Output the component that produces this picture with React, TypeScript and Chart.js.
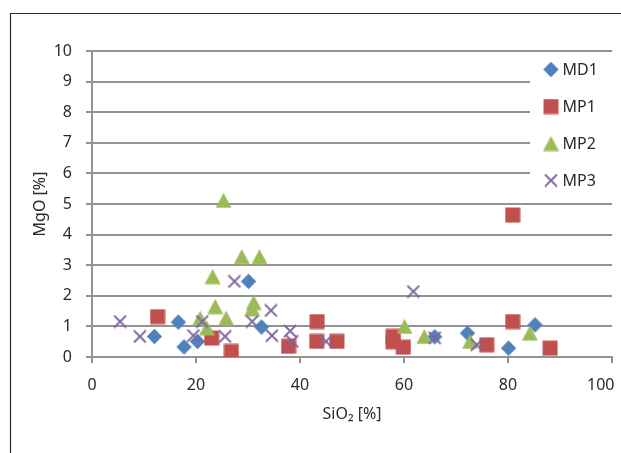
import React, { useEffect, useRef } from 'react';
import { Chart, registerables } from 'chart.js';

Chart.register(...registerables);

// ---- data ----
const seriesNames = ['MD1', 'MP1', 'MP2', 'MP3'];

const md1X = [12.0, 16.6, 17.7, 20.3, 30.1, 32.6, 65.9, 72.2, 80.1, 85.2];
const md1Y = [0.67, 1.14, 0.33, 0.51, 2.47, 0.98, 0.66, 0.78, 0.29, 1.05];

const mp1X = [12.6, 23.0, 26.8, 37.8, 43.3, 43.2, 47.1, 57.9, 57.9, 59.9, 75.9, 80.9, 80.9, 88.1];
const mp1Y = [1.32, 0.62, 0.18, 0.35, 1.16, 0.51, 0.51, 0.67, 0.5, 0.32, 0.4, 4.64, 1.16, 0.29];

const mp2X = [20.8, 22.1, 23.2, 23.7, 25.3, 25.8, 28.8, 31.1, 30.8, 32.2, 60.1, 63.9, 72.7, 84.2];
const mp2Y = [1.27, 0.95, 2.63, 1.65, 5.12, 1.27, 3.28, 1.78, 1.58, 3.28, 1.0, 0.67, 0.51, 0.78];

const mp3X = [5.4, 9.2, 19.5, 21.2, 25.6, 27.4, 30.8, 34.4, 34.6, 38.1, 38.5, 45.0, 61.8, 65.9, 74.0];
const mp3Y = [1.16, 0.67, 0.7, 1.16, 0.67, 2.47, 1.16, 1.52, 0.7, 0.85, 0.51, 0.51, 2.14, 0.63, 0.4];

const xTickValues = [0, 20, 40, 60, 80, 100];
const xTickLabels = ['0', '20', '40', '60', '80', '100\u2007\u2007\u00a0'];
const yTickValues = [0, 1, 2, 3, 4, 5, 6, 7, 8, 9, 10];

const xTitle = 'SiO\u2082 [%]';
const yTitle = 'MgO [%]';

const seriesColors = ['#4F81BD', '#C0504D', '#9BBB59', '#8064A2'];

const FONT = '"Noto Sans", "Open Sans", sans-serif';
const TEXT = '#2a2a2a';
const GRID = '#939393';

function makeMarker(kind: string, color: string): HTMLCanvasElement {
  const c = document.createElement('canvas');
  const ctx = c.getContext('2d') as CanvasRenderingContext2D;
  if (kind === 'diamond') {
    c.width = 17; c.height = 17;
    ctx.fillStyle = color;
    ctx.beginPath();
    ctx.moveTo(8.5, 0.8); ctx.lineTo(16.2, 8.5); ctx.lineTo(8.5, 16.2); ctx.lineTo(0.8, 8.5);
    ctx.closePath(); ctx.fill();
  } else if (kind === 'square') {
    c.width = 16; c.height = 16;
    ctx.fillStyle = color;
    ctx.fillRect(0.5, 0.5, 15, 15);
  } else if (kind === 'triangle') {
    c.width = 17; c.height = 16;
    ctx.fillStyle = color;
    ctx.beginPath();
    ctx.moveTo(8.5, 0.5); ctx.lineTo(16.5, 15.5); ctx.lineTo(0.5, 15.5);
    ctx.closePath(); ctx.fill();
  } else {
    c.width = 14; c.height = 14;
    ctx.strokeStyle = color;
    ctx.lineWidth = 1.8;
    ctx.beginPath();
    ctx.moveTo(1, 1); ctx.lineTo(13, 13);
    ctx.moveTo(13, 1); ctx.lineTo(1, 13);
    ctx.stroke();
  }
  return c;
}

export default function App() {
  const ref = useRef<HTMLCanvasElement | null>(null);

  useEffect(() => {
    if (!ref.current) return;
    const kinds = ['diamond', 'square', 'triangle', 'cross'];
    const markers = kinds.map((k, i) => makeMarker(k, seriesColors[i]));
    const xs = [md1X, mp1X, mp2X, mp3X];
    const ys = [md1Y, mp1Y, mp2Y, mp3Y];

    const framePlugin = {
      id: 'frame',
      beforeDraw(chart: any) {
        const ctx = chart.ctx;
        ctx.save();
        ctx.fillStyle = '#ffffff';
        ctx.fillRect(0, 0, chart.width, chart.height);
        ctx.strokeStyle = '#2a2a2a';
        ctx.lineWidth = 1.2;
        ctx.beginPath();
        ctx.moveTo(10.5, chart.height + 2);
        ctx.lineTo(10.5, 13.5);
        ctx.lineTo(chart.width + 2, 13.5);
        ctx.stroke();
        ctx.restore();
      },
    };

    const legendPlugin = {
      id: 'boxLegend',
      afterDatasetsDraw(chart: any) {
        const ctx = chart.ctx;
        ctx.save();
        ctx.fillStyle = '#ffffff';
        ctx.fillRect(530, 54, 85, 147);
        ctx.font = `16px ${FONT}`;
        ctx.fillStyle = TEXT;
        ctx.textAlign = 'left';
        ctx.textBaseline = 'middle';
        seriesNames.forEach((name, i) => {
          const y = 69.5 + i * 37;
          const m = markers[i];
          ctx.drawImage(m, 551 - m.width / 2, y - m.height / 2);
          ctx.fillText(name, 562.5, y + 1);
        });
        ctx.restore();
      },
    };

    const chart = new Chart(ref.current, {
      type: 'scatter',
      data: {
        datasets: seriesNames.map((name, i) => ({
          label: name,
          data: xs[i].map((x, j) => ({ x, y: ys[i][j] })),
          pointStyle: markers[i] as any,
          pointRadius: 8,
          pointHoverRadius: 8,
          backgroundColor: seriesColors[i],
          borderColor: seriesColors[i],
          showLine: false,
          order: 3 - i,
        })),
      },
      options: {
        responsive: false,
        animation: false,
        events: [],
        layout: { padding: { left: 0, right: 9, top: 51, bottom: 0 } },
        plugins: {
          legend: { display: false },
          tooltip: { enabled: false },
        },
        scales: {
          x: {
            type: 'linear',
            position: 'bottom',
            min: 0,
            max: 100,
            afterBuildTicks: (scale: any) => {
              scale.ticks = xTickValues.map((v) => ({ value: v }));
            },
            ticks: {
              font: { family: FONT, size: 16 },
              color: TEXT,
              padding: 13,
              maxRotation: 0,
              autoSkip: false,
              callback: (v: any) => {
                const idx = xTickValues.indexOf(Number(v));
                return idx >= 0 ? xTickLabels[idx] : '';
              },
            },
            grid: { drawOnChartArea: false, drawTicks: true, tickLength: 6, color: GRID, lineWidth: 2 },
            border: { display: true, color: GRID, width: 2 },
            title: {
              display: true,
              text: xTitle,
              font: { family: FONT, size: 16 },
              color: TEXT,
              padding: { top: 0, bottom: 29 },
            },
            afterFit: (scale: any) => {
              scale.height = 96;
              scale.paddingLeft = 0;
              scale.paddingRight = 0;
            },
          },
          y: {
            type: 'linear',
            min: 0,
            max: 10,
            afterBuildTicks: (scale: any) => {
              scale.ticks = yTickValues.map((v) => ({ value: v }));
            },
            ticks: {
              font: { family: FONT, size: 16 },
              color: TEXT,
              padding: 14,
              autoSkip: false,
            },
            grid: { drawTicks: true, tickLength: 6, color: GRID, lineWidth: 2 },
            border: { display: true, color: GRID, width: 2 },
            title: {
              display: true,
              text: yTitle,
              font: { family: FONT, size: 16 },
              color: TEXT,
              padding: { top: 31, bottom: 0 },
            },
            afterFit: (scale: any) => {
              scale.width = 92;
              scale.paddingTop = 0;
              scale.paddingBottom = 0;
            },
          },
        },
      } as any,
      plugins: [framePlugin, legendPlugin],
    });

    return () => chart.destroy();
  }, []);

  return (
    <div style={{ position: 'fixed', left: 0, top: 0, width: 621, height: 453, background: '#fff' }}>
      <canvas ref={ref} width={621} height={453} style={{ display: 'block', width: 621, height: 453 }} />
    </div>
  );
}
